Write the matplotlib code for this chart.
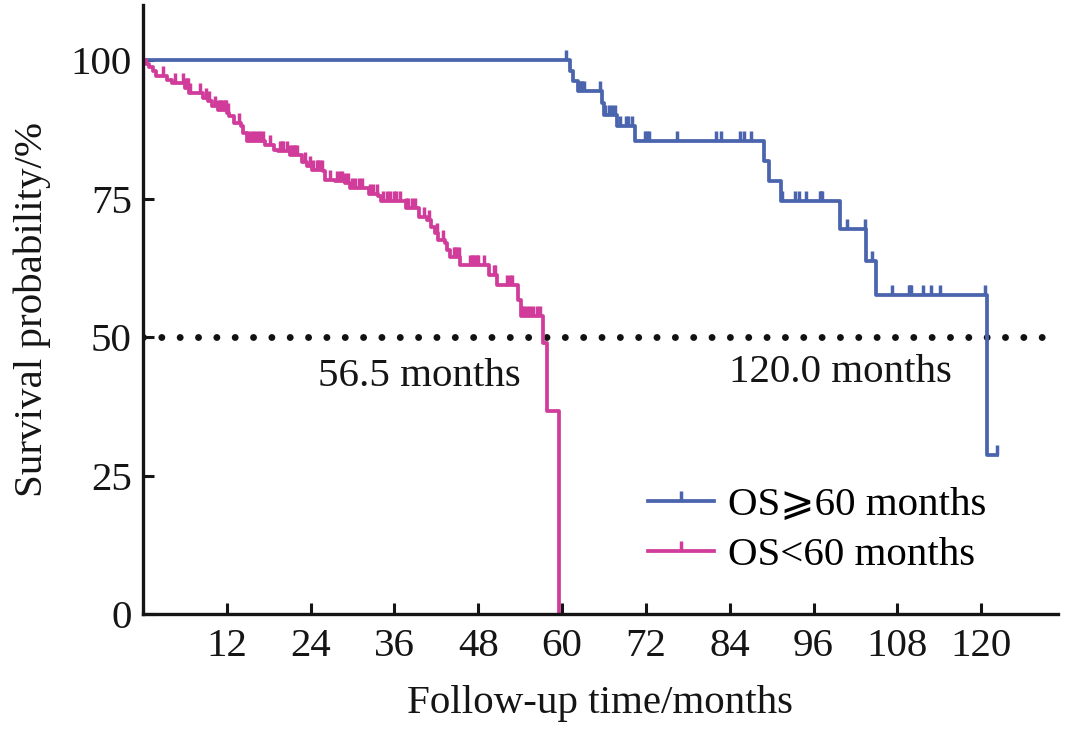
import numpy as np
import matplotlib
matplotlib.use("Agg")
import matplotlib.pyplot as plt
from matplotlib.path import Path
from matplotlib.lines import Line2D

plt.rcParams['font.family'] = ['Liberation Serif', 'DejaVu Serif', 'DejaVu Sans']

# OS >= 60 months group (step curve: time where survival changes, new level)
blue_times = [0, 61.2, 61.6, 62.3, 65.7, 66.0, 67.9, 70.4, 88.9, 89.6, 91.3,
              99.8, 103.5, 104.9, 120.8, 122.2]
blue_surv = [100, 98.0, 96.3, 94.5, 92.4, 90.2, 88.1, 85.4, 81.8, 78.2, 74.6,
             69.6, 63.8, 57.6, 28.8, 28.8]
blue_censor = [60.5, 62.5, 62.7, 62.9, 63.1, 65.5, 66.2, 66.7, 67.2, 67.6,
               68.3, 69.1, 69.5, 70.0, 71.9, 72.1, 72.4, 76.5, 82.1, 82.7,
               85.5, 86.0, 87.0, 91.5, 93.4, 93.9, 94.9, 96.9, 97.1, 97.2,
               100.8, 103.3, 104.4, 107.2, 109.6, 109.8, 110.0, 111.6, 112.8,
               114.1, 120.5, 122.2]

# OS < 60 months group
pink_times = [0, 0.4, 0.9, 1.4, 1.9, 3.4, 4.2, 6.0, 6.6, 8.6, 9.3, 9.9, 10.8,
              12.1, 12.4, 13.0, 14.0, 14.4, 14.9, 17.5, 18.7, 19.4, 21.0, 22.8,
              23.5, 24.2, 25.8, 26.1, 27.5, 29.0, 29.6, 32.3, 33.7, 34.1, 37.6,
              39.5, 40.6, 41.3, 41.8, 42.3, 43.2, 43.6, 43.9, 45.4, 49.5, 50.7,
              53.7, 54.1, 57.3, 57.8, 59.5]
pink_surv = [100, 99.4, 98.8, 98.1, 97.2, 96.4, 96.0, 95.1, 94.2, 93.2, 92.6,
             91.7, 91.1, 90.5, 89.9, 88.7, 88.1, 86.9, 85.4, 84.8, 83.9, 83.6,
             83.0, 81.6, 80.9, 80.3, 80.0, 78.5, 78.2, 77.9, 77.0, 75.8, 75.5,
             74.6, 73.4, 71.8, 71.2, 70.0, 68.8, 67.6, 67.0, 65.8, 64.6, 63.1,
             61.3, 59.5, 56.8, 53.8, 49.0, 36.7, 0]
pink_censor = [2.9, 4.6, 5.8, 6.0, 6.3, 6.5, 6.7, 8.2, 9.1, 9.4, 10.3, 10.8,
               11.0, 11.2, 11.5, 11.7, 11.9, 12.2, 13.7, 14.9, 15.4, 15.8, 16.1,
               16.5, 16.7, 17.2, 18.2, 19.6, 19.9, 20.1, 20.6, 21.1, 21.3, 21.6,
               21.8, 22.0, 23.2, 23.9, 24.4, 24.9, 25.1, 25.4, 25.6, 26.8, 27.8,
               28.2, 28.5, 29.0, 29.4, 29.9, 30.4, 30.9, 31.3, 32.5, 33.0, 33.5,
               34.4, 34.9, 35.4, 35.9, 36.3, 36.8, 37.7, 38.0, 38.5, 39.0, 40.2,
               40.9, 42.1, 43.0, 44.5, 44.7, 44.9, 45.2, 46.8, 47.1, 47.3, 47.5,
               47.8, 48.0, 48.8, 50.2, 50.4, 52.1, 52.6, 52.8, 54.3, 54.5, 55.0,
               55.4, 55.9, 56.4, 56.8]

labels = ['OS⩾60 months', 'OS<60 months']
colors = ['#4A64AD', '#D13C9B']
x_ticks = [12, 24, 36, 48, 60, 72, 84, 96, 108, 120]
y_ticks = [0, 25, 50, 75, 100]

FS = 29.5
INK = '#151515'

# tick mark rising upward from the curve
tick_marker = Path([(0, 0), (0, 1)], [Path.MOVETO, Path.LINETO])


def level_at(times, surv, t):
    idx = np.searchsorted(times, t, side='right') - 1
    return np.asarray(surv)[idx]


fig = plt.figure(figsize=(10.67, 7.29), dpi=100)
ax = fig.add_axes([0.1339, 0.1573, 0.8577, 0.8358])

groups = [(blue_times, blue_surv, blue_censor), (pink_times, pink_surv, pink_censor)]
handles = []
for (t, s, c), color, label in zip(groups, colors, labels):
    ax.step(t, s, where='post', color=color, lw=2.7)
    ax.plot(c, level_at(t, s, c), linestyle='none', marker=tick_marker,
            ms=15, mew=2.5, color=color)
    handles.append(Line2D([0], [0], color=color, lw=2.7, marker=tick_marker,
                          ms=15, mew=2.5, label=label))

# median line
ax.axhline(50, color='#111111', lw=5.0, linestyle=(0, (0.001, 2.64)),
           dash_capstyle='round', zorder=1)
ax.text(39.6, 43.0, '56.5 months', fontsize=FS, ha='center', va='center', color=INK)
ax.text(99.9, 43.6, '120.0 months', fontsize=FS, ha='center', va='center', color=INK)

ax.set_xlim(0, 131)
ax.set_ylim(0, 110)
ax.set_xticks(x_ticks)
ax.set_yticks(y_ticks)
for side in ['top', 'right']:
    ax.spines[side].set_visible(False)
for side in ['left', 'bottom']:
    ax.spines[side].set_linewidth(2.4)
    ax.spines[side].set_color(INK)
ax.tick_params(direction='in', length=8, width=2.2, labelsize=FS, colors=INK)
ax.tick_params(axis='x', pad=10)
ax.tick_params(axis='y', pad=8)

ax.set_xlabel('Follow-up time/months', fontsize=FS, color=INK, labelpad=14)
ax.set_ylabel('Survival probability/%', fontsize=FS, color=INK, labelpad=14)

ax.legend(handles=handles, loc='center left', bbox_to_anchor=(0.552, 0.138),
          frameon=False, fontsize=FS, handlelength=1.6, handletextpad=0.36,
          labelspacing=0.3, borderpad=0, borderaxespad=0)

fig.savefig('out.png', dpi=100)
